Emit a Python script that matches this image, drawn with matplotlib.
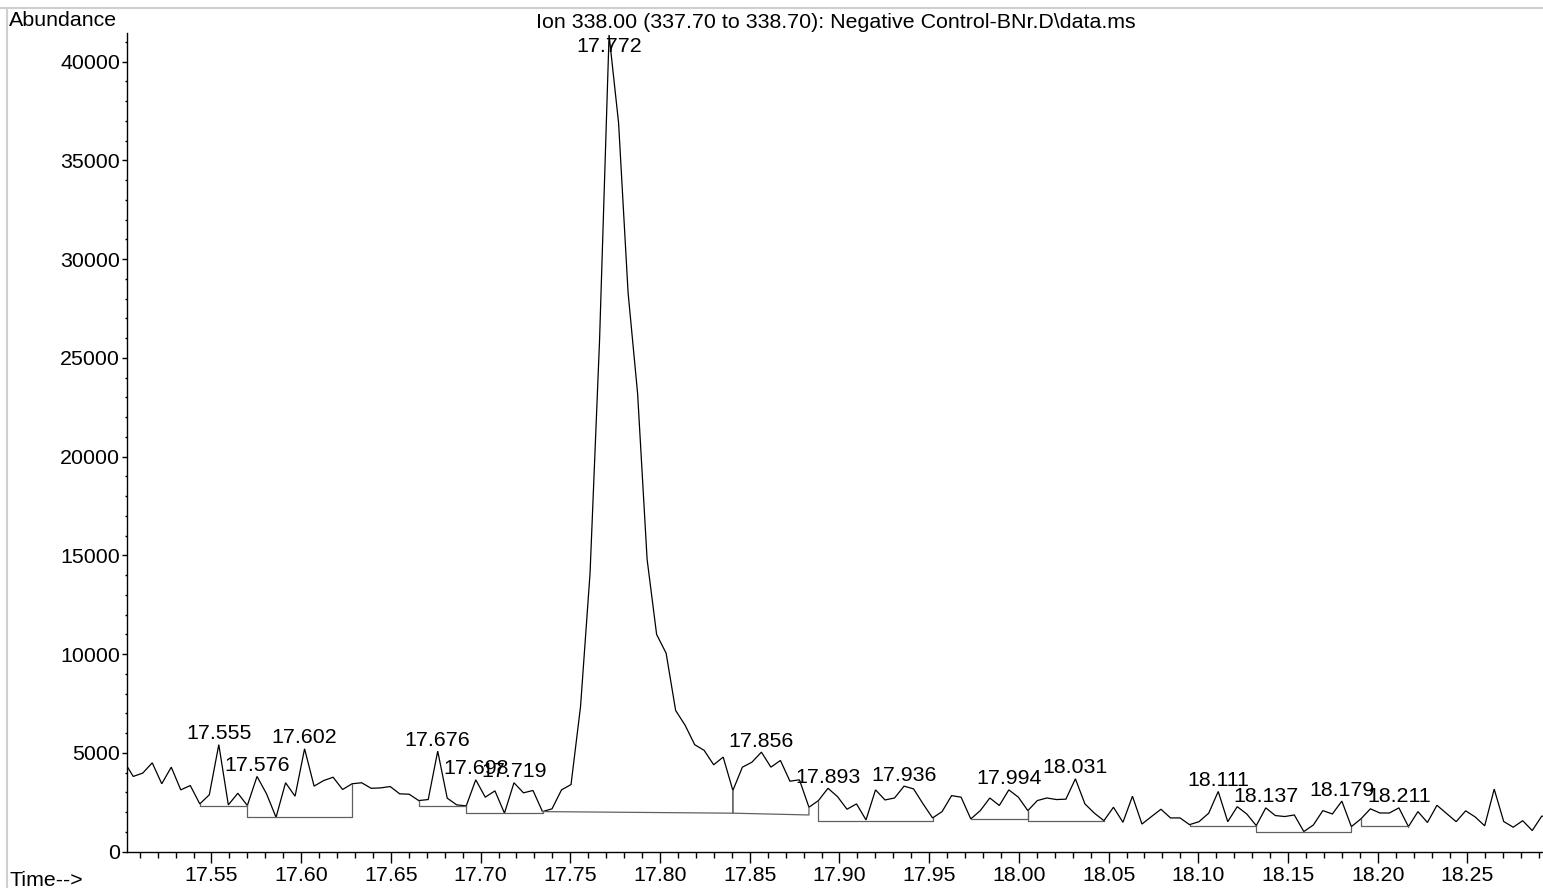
import matplotlib
matplotlib.use("Agg")
import matplotlib.pyplot as plt
from matplotlib.ticker import MultipleLocator
from matplotlib.lines import Line2D

# Datos: tiempos de retencion (min) de cada scan
times = [
    17.5011, 17.5064, 17.5117, 17.5170, 17.5223, 17.5276, 17.5329, 17.5382, 17.5435, 17.5488,
    17.5541, 17.5594, 17.5647, 17.5700, 17.5754, 17.5807, 17.5860, 17.5913, 17.5966, 17.6019,
    17.6072, 17.6125, 17.6178, 17.6231, 17.6284, 17.6337, 17.6390, 17.6443, 17.6496, 17.6549,
    17.6602, 17.6655, 17.6708, 17.6761, 17.6814, 17.6867, 17.6920, 17.6973, 17.7026, 17.7080,
    17.7133, 17.7186, 17.7239, 17.7292, 17.7345, 17.7398, 17.7451, 17.7504, 17.7557, 17.7610,
    17.7663, 17.7716, 17.7769, 17.7822, 17.7875, 17.7928, 17.7981, 17.8034, 17.8087, 17.8140,
    17.8193, 17.8246, 17.8299, 17.8352, 17.8406, 17.8459, 17.8512, 17.8565, 17.8618, 17.8671,
    17.8724, 17.8777, 17.8830, 17.8883, 17.8936, 17.8989, 17.9042, 17.9095, 17.9148, 17.9201,
    17.9254, 17.9307, 17.9360, 17.9413, 17.9466, 17.9519, 17.9572, 17.9625, 17.9678, 17.9732,
    17.9785, 17.9838, 17.9891, 17.9944, 17.9997, 18.0050, 18.0103, 18.0156, 18.0209, 18.0262,
    18.0315, 18.0368, 18.0421, 18.0474, 18.0527, 18.0580, 18.0633, 18.0686, 18.0739, 18.0792,
    18.0845, 18.0898, 18.0951, 18.1004, 18.1058, 18.1111, 18.1164, 18.1217, 18.1270, 18.1323,
    18.1376, 18.1429, 18.1482, 18.1535, 18.1588, 18.1641, 18.1694, 18.1747, 18.1800, 18.1853,
    18.1906, 18.1959, 18.2012, 18.2065, 18.2118, 18.2171, 18.2224, 18.2277, 18.2330, 18.2384,
    18.2437, 18.2490, 18.2543, 18.2596, 18.2649, 18.2702, 18.2755, 18.2808, 18.2861, 18.2914,
    18.2967,
]

# Abundancia del ion 338 en cada scan
abundance = [
    4600, 3810, 3980, 4500, 3440, 4280, 3130, 3350, 2420, 2880,
    5420, 2370, 2960, 2340, 3810, 2930, 1740, 3490, 2810, 5210,
    3320, 3600, 3770, 3150, 3440, 3490, 3210, 3230, 3300, 2930,
    2910, 2590, 2640, 5090, 2710, 2370, 2320, 3640, 2760, 3080,
    1950, 3490, 2980, 3100, 2030, 2170, 3130, 3400, 7350, 14100,
    25900, 41350, 36900, 28300, 23200, 14800, 11000, 10050, 7150, 6400,
    5420, 5130, 4400, 4790, 3100, 4280, 4530, 5040, 4280, 4620,
    3570, 3640, 2250, 2590, 3210, 2790, 2150, 2420, 1610, 3130,
    2620, 2720, 3320, 3180, 2420, 1710, 2030, 2840, 2760, 1660,
    2080, 2720, 2340, 3130, 2760, 2080, 2590, 2720, 2640, 2660,
    3690, 2420, 1950, 1570, 2250, 1490, 2810, 1400, 1780, 2150,
    1710, 1710, 1370, 1520, 1950, 3050, 1520, 2280, 1910, 1320,
    2220, 1830, 1780, 1860, 1020, 1350, 2080, 1910, 2560, 1270,
    1660, 2170, 1960, 1960, 2220, 1270, 2030, 1480, 2350, 1930,
    1520, 2070, 1760, 1310, 3170, 1530, 1240, 1570, 1070, 1800,
    1750,
]

# Picos integrados: etiqueta y posicion (indice del scan del apice)
peak_labels = ["17.555", "17.576", "17.602", "17.676", "17.698", "17.719", "17.772",
               "17.856", "17.893", "17.936", "17.994", "18.031", "18.111", "18.137",
               "18.179", "18.211"]
peak_scans = [10, 14, 19, 33, 37, 41, 51, 67, 74, 82, 93, 100, 115, 120, 128, 134]

# Lineas base: scan inicial, scan final, nivel inicial y final
base_start = [8, 13, 31, 36, 44, 64, 73, 89, 95, 112, 119, 130]
base_end = [13, 24, 36, 44, 64, 72, 85, 95, 103, 119, 129, 135]
base_level_start = [2290, 1740, 2320, 1950, 2030, 1950, 1550, 1640, 1570, 1300, 1020, 1280]
base_level_end = [2290, 1740, 2320, 1950, 1950, 1860, 1550, 1640, 1570, 1300, 1020, 1280]

title = "Ion 338.00 (337.70 to 338.70): Negative Control-BNr.D\\data.ms"


def main():
    plt.rcParams['font.family'] = ['Liberation Sans', 'DejaVu Sans']
    fs = 15.4
    W, H = 1543, 888
    fig = plt.figure(figsize=(W / 100, H / 100), dpi=100)
    ax = fig.add_axes([127.3 / W, 1 - 851.7 / H, 1 - 127.3 / W, (851.7 - 33) / H])

    # Traza del cromatograma
    ax.plot(times, abundance, color='black', lw=0.9, solid_joinstyle='miter')

    # Lineas base con sus caidas verticales
    for s, e, l0, l1 in zip(base_start, base_end, base_level_start, base_level_end):
        ax.plot([times[s], times[s], times[e], times[e]],
                [abundance[s], l0, l1, abundance[e]],
                color='#606060', lw=0.9)

    ax.set_xlim(17.5031, 18.2921)
    ax.set_ylim(0, 41450)

    # Etiquetas de los picos
    for lab, i in zip(peak_labels, peak_scans):
        y = abundance[i]
        if y > 0.95 * ax.get_ylim()[1]:
            ax.annotate(lab, (times[i], y), xytext=(0, -1.5), textcoords='offset points',
                        ha='center', va='top', fontsize=fs)
        else:
            ax.annotate(lab, (times[i], y), xytext=(0, 1), textcoords='offset points',
                        ha='center', va='bottom', fontsize=fs)

    # Ejes
    for side in ['top', 'right']:
        ax.spines[side].set_visible(False)
    for side in ['left', 'bottom']:
        ax.spines[side].set_linewidth(1.0)
    ax.xaxis.set_major_locator(MultipleLocator(0.05))
    ax.xaxis.set_minor_locator(MultipleLocator(0.01))
    ax.yaxis.set_major_locator(MultipleLocator(5000))
    ax.yaxis.set_minor_locator(MultipleLocator(1000))
    ax.xaxis.set_major_formatter(plt.FormatStrFormatter('%.2f'))
    ax.tick_params(axis='x', which='major', length=8, width=1, pad=2.5, labelsize=fs)
    ax.tick_params(axis='x', which='minor', length=4, width=1)
    ax.tick_params(axis='y', which='major', length=3.6, width=1, pad=1.5, labelsize=fs)
    ax.tick_params(axis='y', which='minor', length=1.8, width=1)
    ax.patch.set_visible(False)

    # Textos de la pagina
    fig.text(9 / W, 1 - 11 / H, "Abundance", ha='left', va='top', fontsize=fs)
    fig.text(836 / W, 1 - 13 / H, title, ha='center', va='top', fontsize=fs)
    fig.text(9 / W, 1 - 886 / H, "Time-->", ha='left', va='baseline', fontsize=fs)

    # Marco gris de la pagina
    fig.add_artist(Line2D([0, 1], [1 - 8 / H, 1 - 8 / H], color='#cfcfcf', lw=1.5,
                          transform=fig.transFigure))
    fig.add_artist(Line2D([7.5 / W, 7.5 / W], [0, 1 - 8 / H], color='#cfcfcf', lw=1.5,
                          transform=fig.transFigure))

    fig.savefig("out.png", dpi=100)


main()
